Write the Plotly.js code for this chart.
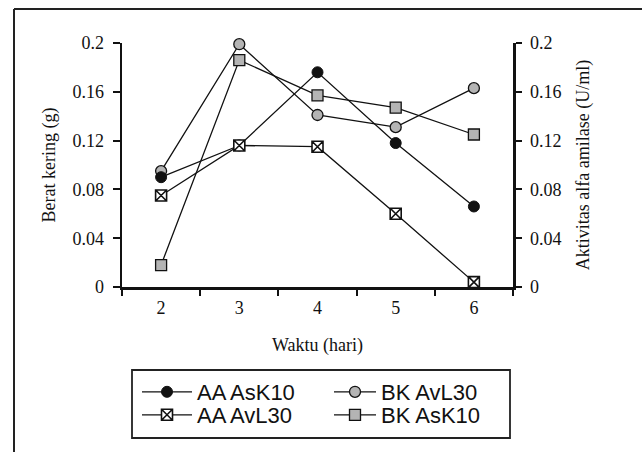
<!DOCTYPE html>
<html>
<head>
<meta charset="utf-8">
<script src="https://cdn.plot.ly/plotly-3.0.1.min.js"></script>
<style>html,body{margin:0;padding:0;background:#fff;}#chart{width:642px;height:452px;}</style>
</head>
<body>
<div id="chart"></div>
<script>
// Data
var days = ['2', '3', '4', '5', '6'];
var aaAsK10 = [0.090, 0.116, 0.176, 0.118, 0.066];   // Aktivitas alfa amilase (U/ml)
var aaAvL30 = [0.075, 0.116, 0.115, 0.060, 0.004];   // Aktivitas alfa amilase (U/ml)
var bkAvL30 = [0.095, 0.199, 0.141, 0.131, 0.163];   // Berat kering (g)
var bkAsK10 = [0.018, 0.186, 0.157, 0.147, 0.125];   // Berat kering (g)
var yTickVals = [0, 0.04, 0.08, 0.12, 0.16, 0.2];
var yTickText = ['0', '0.04', '0.08', '0.12', '0.16', '0.2'];
var names = ['AA AsK10', 'AA AvL30', 'BK AvL30', 'BK AsK10'];

var serif = 'Liberation Serif, Times New Roman, serif';
var lineStyle = {color: '#111', width: 1.3};

var traces = [
  {x: days, y: bkAvL30, name: names[2], yaxis: 'y', type: 'scatter', mode: 'lines+markers',
   line: lineStyle, legend: 'legend3', cliponaxis: false,
   marker: {symbol: 'circle', size: 11, color: '#b4b4b4', line: {color: '#111', width: 1.3}}},
  {x: days, y: bkAsK10, name: names[3], yaxis: 'y', type: 'scatter', mode: 'lines+markers',
   line: lineStyle, legend: 'legend4', cliponaxis: false,
   marker: {symbol: 'square', size: 11, color: '#b4b4b4', line: {color: '#111', width: 1.3}}},
  {x: days, y: aaAsK10, name: names[0], yaxis: 'y2', type: 'scatter', mode: 'lines+markers',
   line: lineStyle, legend: 'legend', cliponaxis: false,
   marker: {symbol: 'circle', size: 11, color: '#111', line: {color: '#111', width: 1}}},
  {x: days, y: aaAvL30, name: names[1], yaxis: 'y2', type: 'scatter', mode: 'lines+markers',
   line: lineStyle, legend: 'legend2', cliponaxis: false,
   marker: {symbol: 'square-x', size: 11, color: '#ffffff', line: {color: '#111', width: 1.6}}}
];

function px2x(p) { return (p - 122) / 391; }
function px2y(p) { return (287 - p) / 244; }

function leg(xp, yp, iw) {
  return {x: px2x(xp), y: px2y(yp), xanchor: 'left', yanchor: 'middle',
          bgcolor: 'rgba(0,0,0,0)', borderwidth: 0, itemwidth: iw,
          font: {family: 'Liberation Sans, Arial, sans-serif', size: 22, color: '#111'}};
}

var layout = {
  width: 642, height: 452,
  margin: {l: 122, r: 129, t: 43, b: 165},
  paper_bgcolor: '#fff', plot_bgcolor: '#fff',
  font: {family: serif, size: 18, color: '#111'},
  showlegend: true,
  xaxis: {
    type: 'category', range: [-0.5, 4.5], tickson: 'boundaries',
    showline: true, linecolor: '#111', linewidth: 2.5,
    ticks: 'outside', ticklen: 6, tickwidth: 2, tickcolor: '#111',
    tickfont: {family: serif, size: 18, color: '#111'},
    showgrid: false, zeroline: false, ticklabelstandoff: 3,
    title: {text: 'Waktu (hari)', standoff: 22, font: {family: serif, size: 18}}
  },
  yaxis: {
    range: [0, 0.2], tickvals: yTickVals, ticktext: yTickText,
    showline: true, linecolor: '#111', linewidth: 2.5,
    ticks: 'outside', ticklen: 7, tickwidth: 2, tickcolor: '#111',
    tickfont: {family: serif, size: 18, color: '#111'},
    showgrid: false, zeroline: false, ticklabelstandoff: 5,
    title: {text: 'Berat kering (g)', standoff: 12, font: {family: serif, size: 18}}
  },
  yaxis2: {
    range: [0, 0.2], tickvals: yTickVals, ticktext: yTickText,
    overlaying: 'y', side: 'right',
    showline: true, linecolor: '#111', linewidth: 2.5,
    ticks: 'outside', ticklen: 6, tickwidth: 2, tickcolor: '#111',
    tickfont: {family: serif, size: 18, color: '#111'},
    showgrid: false, zeroline: false, ticklabelstandoff: 5,
    title: {text: 'Aktivitas alfa amilase (U/ml)', standoff: 16, font: {family: serif, size: 18}}
  },
  legend: leg(137, 392, 50),
  legend2: leg(137, 415, 50),
  legend3: leg(329, 392, 42),
  legend4: leg(329, 415, 42),
  shapes: [
    {type: 'line', xref: 'paper', yref: 'paper', x0: px2x(14), x1: px2x(642), y0: px2y(9), y1: px2y(9),
     line: {color: '#222', width: 2}},
    {type: 'line', xref: 'paper', yref: 'paper', x0: px2x(14), x1: px2x(14), y0: px2y(9), y1: px2y(452),
     line: {color: '#222', width: 2}},
    {type: 'rect', xref: 'paper', yref: 'paper', x0: px2x(132), x1: px2x(510), y0: px2y(370), y1: px2y(438),
     line: {color: '#222', width: 1.8}}
  ]
};

Plotly.newPlot('chart', traces, layout, {displayModeBar: false, staticPlot: true});
</script>
</body>
</html>
